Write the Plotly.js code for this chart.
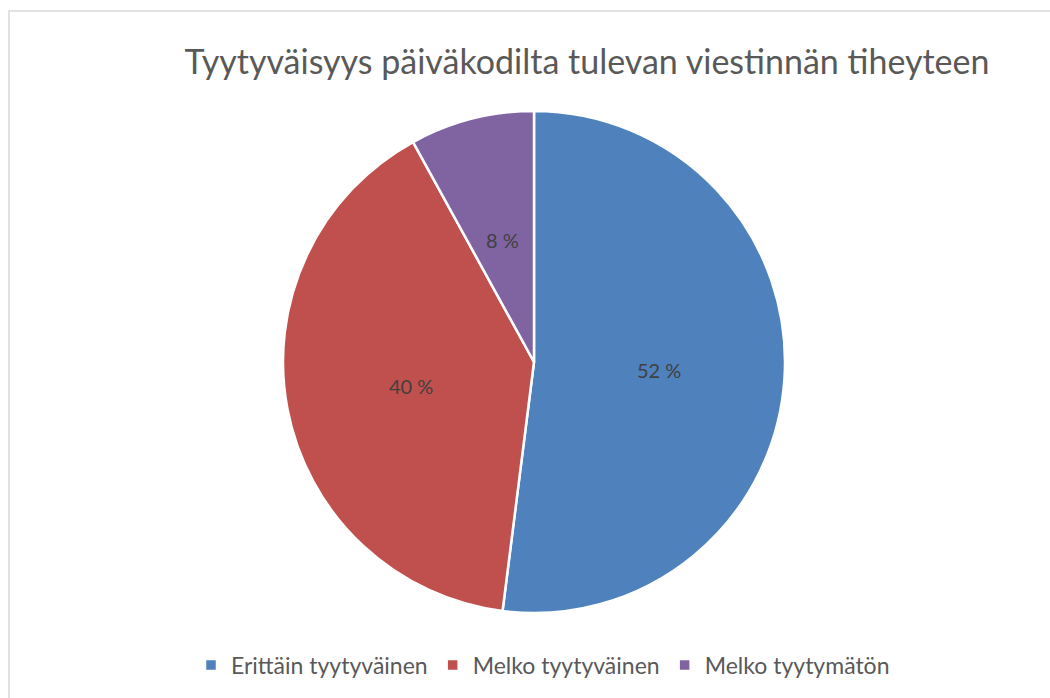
<!DOCTYPE html>
<html><head><meta charset="utf-8">
<script src="https://cdn.plot.ly/plotly-3.0.1.min.js"></script>
<style>html,body{margin:0;padding:0;background:#fff}#chart{width:1050px;height:698px}</style>
</head><body><div id="chart"></div>
<script>
const categories = ["Erittäin tyytyväinen", "Melko tyytyväinen", "Melko tyytymätön"];
const values = [52, 40, 8];
const colors = ["#4F81BD", "#C0504D", "#8064A2"];
const titleText = "Tyytyväisyys päiväkodilta tulevan viestinnän tiheyteen";

const W = 1050, H = 698;
const cx = 534, cy = 362, r = 251;
const dom = {x: [(cx - r) / W, (cx + r) / W], y: [1 - (cy + r) / H, 1 - (cy - r) / H]};

const trace = {
  type: "pie",
  labels: categories,
  values: values,
  sort: false,
  direction: "clockwise",
  rotation: 0,
  marker: {colors: colors, line: {color: "#ffffff", width: 2.5}},
  textinfo: "none",
  hoverinfo: "label+percent",
  domain: dom
};

// data labels placed at half radius on each slice's mid angle (Excel-style), computed from values
const total = values.reduce((a, b) => a + b, 0);
let cum = 0;
const annotations = values.map((v, i) => {
  const mid = (cum + v / 2) / total * 2 * Math.PI;
  cum += v;
  const px = cx + 0.5 * r * Math.sin(mid);
  const py = cy - 0.5 * r * Math.cos(mid);
  return {
    text: Math.round(v / total * 100) + " %",
    x: px / W, y: 1 - py / H, xref: "paper", yref: "paper",
    xanchor: "center", yanchor: "middle", showarrow: false,
    font: {family: "Lato, 'Open Sans', sans-serif", size: 20, color: "#404040"}
  };
});

const layout = {
  width: W, height: H,
  margin: {l: 0, r: 0, t: 0, b: 0},
  paper_bgcolor: "#ffffff",
  title: {
    text: titleText,
    font: {family: "Lato, 'Open Sans', sans-serif", size: 34, color: "#595959"},
    x: 587 / W, xanchor: "center", xref: "paper",
    y: 1 - 62 / H, yanchor: "middle", yref: "paper"
  },
  showlegend: true,
  legend: {
    orientation: "h",
    x: 543 / W, xanchor: "center",
    y: 1 - 665 / H, yanchor: "middle",
    font: {family: "Lato, 'Open Sans', sans-serif", size: 23, color: "#595959"},
    itemwidth: 30,
    traceorder: "normal"
  },
  annotations: annotations,
  shapes: [{
    type: "rect", xref: "paper", yref: "paper",
    x0: 9 / W, x1: 1.05, y0: -0.05, y1: 1 - 11 / H,
    line: {color: "#d9d9d9", width: 1.5}, fillcolor: "rgba(0,0,0,0)", layer: "below"
  }]
};

Plotly.newPlot("chart", [trace], layout, {displayModeBar: false, staticPlot: true});
</script>
</body></html>
